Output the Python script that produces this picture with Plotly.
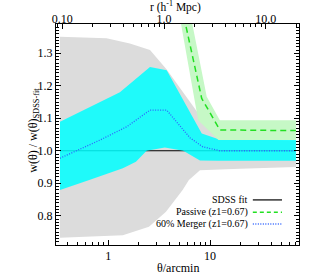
import numpy as np
import plotly.graph_objects as go

# ---------------- data ----------------
# grey band: SDSS fit uncertainty
gray_up_theta = [0.335, 0.96, 1.63, 2.57, 3.75, 8.3, 12.8, 70]
gray_up_val = [1.351, 1.346, 1.33, 1.31, 1.25, 1.10, 1.04, 1.03]
gray_lo_theta = [0.335, 1.39, 2.51, 3.69, 5.38, 6.2, 7.97, 19.7, 70]
gray_lo_val = [0.732, 0.74, 0.766, 0.812, 0.879, 0.91, 0.94, 0.945, 0.95]

# cyan band: 60% merger model
cyan_up_theta = [0.335, 1.3, 2.57, 3.75, 8.3, 12.8, 70]
cyan_up_val = [1.089, 1.18, 1.258, 1.248, 1.053, 1.033, 1.033]
cyan_lo_theta = [0.335, 0.65, 1.39, 1.87, 2.38, 3.6, 5.46, 7.97, 12, 70]
cyan_lo_val = [0.879, 0.91, 0.946, 0.966, 1.0, 1.01, 1.0, 0.97, 0.969, 0.969]

# green band: passive model
green_up_theta = [5.5, 6.7, 9.29, 12.5, 70]
green_up_val = [1.62, 1.39, 1.166, 1.094, 1.094]
green_lo_theta = [4.5, 5.19, 7.65, 12.1, 70]
green_lo_val = [1.525, 1.39, 1.094, 1.033, 1.033]

# lines
sdss_theta = [0.335, 70]
sdss_val = [1.0, 1.0]
passive_theta = [4.6, 5.74, 8.29, 12.5, 70]
passive_val = [1.50, 1.39, 1.161, 1.064, 1.062]
merger_theta = [0.335, 0.83, 1.52, 2.57, 3.75, 4.7, 6.35, 8.5, 12.5, 70]
merger_val = [0.977, 1.033, 1.074, 1.125, 1.125, 1.09, 1.04, 1.012, 1.0, 1.0]

# axes
theta_range = [0.306, 75.0]
r_per_arcmin = 0.283
y_range = [0.71, 1.39]
ytick_vals = [0.8, 0.9, 1.0, 1.1, 1.2, 1.3]
xtick_vals = [1, 10]
rtick_vals = [0.1, 1.0, 10.0]
rtick_text = ["0.10", "1.0", "10.0"]

legend_labels = ["SDSS fit", "Passive (z1=0.67)", "60% Merger (z1=0.67)"]

FONT = "Liberation Serif"
GRAY = "#dcdcdc"
CYAN = "rgba(0,255,255,0.86)"
GREEN_BAND = "#c6f8c6"
GREEN = "#22e022"
BLUE = "#2f63ff"


def band(up_x, up_y, lo_x, lo_y, color, name):
    xs = list(up_x) + list(lo_x)[::-1]
    ys = list(up_y) + list(lo_y)[::-1]
    return go.Scatter(x=xs, y=ys, fill="toself", fillcolor=color, mode="none",
                      line=dict(width=0), hoverinfo="skip", showlegend=False, name=name)


fig = go.Figure()
fig.add_trace(band(gray_up_theta, gray_up_val, gray_lo_theta, gray_lo_val, GRAY, "sdss band"))
fig.add_trace(go.Scatter(x=sdss_theta, y=sdss_val, mode="lines",
                         line=dict(color="black", width=1), showlegend=False))
fig.add_trace(band(cyan_up_theta, cyan_up_val, cyan_lo_theta, cyan_lo_val, CYAN, "merger band"))
fig.add_trace(band(green_up_theta, green_up_val, green_lo_theta, green_lo_val, GREEN_BAND, "passive band"))
fig.add_trace(go.Scatter(x=merger_theta, y=merger_val, mode="lines",
                         line=dict(color=BLUE, width=1.3, dash="1px,1.5px"), showlegend=False))
fig.add_trace(go.Scatter(x=passive_theta, y=passive_val, mode="lines",
                         line=dict(color=GREEN, width=1.5, dash="6px,4px"), showlegend=False))
# dummy trace for the top r axis
fig.add_trace(go.Scatter(x=[rtick_vals[1]], y=[None], xaxis="x2", mode="lines",
                         showlegend=False, hoverinfo="skip"))

lx = np.log10(theta_range)
minor_theta = [v * 10 ** d for d in (-1, 0, 1) for v in range(2, 10)]
minor_theta = [v for v in minor_theta if theta_range[0] <= v <= theta_range[1]]
r_lo, r_hi = theta_range[0] * r_per_arcmin, theta_range[1] * r_per_arcmin
minor_r = [v * 10 ** d for d in (-2, -1, 0, 1) for v in range(2, 10)]
minor_r = [v for v in minor_r if r_lo <= v <= r_hi]

axis_common = dict(showline=True, linecolor="black", linewidth=1, ticks="inside",
                   tickcolor="black", ticklen=5, showgrid=False, zeroline=False,
                   automargin=False,
                   tickfont=dict(family=FONT, size=12, color="black"))

fig.update_layout(
    width=315, height=275,
    margin=dict(l=56, r=16, t=24, b=30),
    paper_bgcolor="white", plot_bgcolor="white",
    font=dict(family=FONT, color="black"),
    xaxis=dict(type="log", range=list(lx), tickvals=xtick_vals,
               ticktext=[str(v) for v in xtick_vals], mirror=False,
               minor=dict(tickvals=minor_theta, ticks="inside", ticklen=3, tickcolor="black"),
               **axis_common),
    xaxis2=dict(type="log", overlaying="x", side="top",
                range=[np.log10(r_lo), np.log10(r_hi)],
                tickvals=rtick_vals, ticktext=rtick_text, ticklabelstandoff=-5,
                minor=dict(tickvals=minor_r, ticks="inside", ticklen=3, tickcolor="black"),
                **axis_common),
    yaxis=dict(range=y_range, tickvals=ytick_vals,
               ticktext=[f"{v:.1f}" for v in ytick_vals], mirror="ticks",
               minor=dict(dtick=0.01, ticks="inside", ticklen=3, tickcolor="black"),
               **axis_common),
)

title_font = dict(family=FONT, size=12, color="black")
# axis titles
fig.add_annotation(text="r (h<sup>-1</sup> Mpc)", xref="paper", yref="paper",
                   x=0.49, y=1.079, showarrow=False, xanchor="center", yanchor="middle",
                   font=dict(family=FONT, size=11.5, color="black"))
fig.add_annotation(text="θ/arcmin", xref="paper", yref="paper",
                   x=0.5, y=-0.104, showarrow=False, xanchor="center", yanchor="middle",
                   font=title_font)
fig.add_annotation(text="w(θ) / w(θ)<sub>SDSS-fit</sub>", xref="paper", yref="paper",
                   x=-0.092, y=0.52, showarrow=False, xanchor="center", yanchor="middle",
                   textangle=-90, font=title_font)

# manual legend (text left of the line sample)
leg_y = [0.204, 0.148, 0.095]
leg_styles = [dict(color="black", width=1.2),
              dict(color=GREEN, width=1.5, dash="4px,3px"),
              dict(color=BLUE, width=1.3, dash="1px,1.5px")]
for lab, yy, st in zip(legend_labels, leg_y, leg_styles):
    fig.add_annotation(text=lab, xref="paper", yref="paper", x=0.80, y=yy,
                       xanchor="right", yanchor="middle", showarrow=False,
                       font=dict(family=FONT, size=10, color="black"))
    fig.add_shape(type="line", xref="paper", yref="paper", x0=0.81, x1=0.93,
                  y0=yy, y1=yy, line=st)

fig.write_html("out.html", config={"displayModeBar": False},
               post_script="document.body.style.margin='0';")
